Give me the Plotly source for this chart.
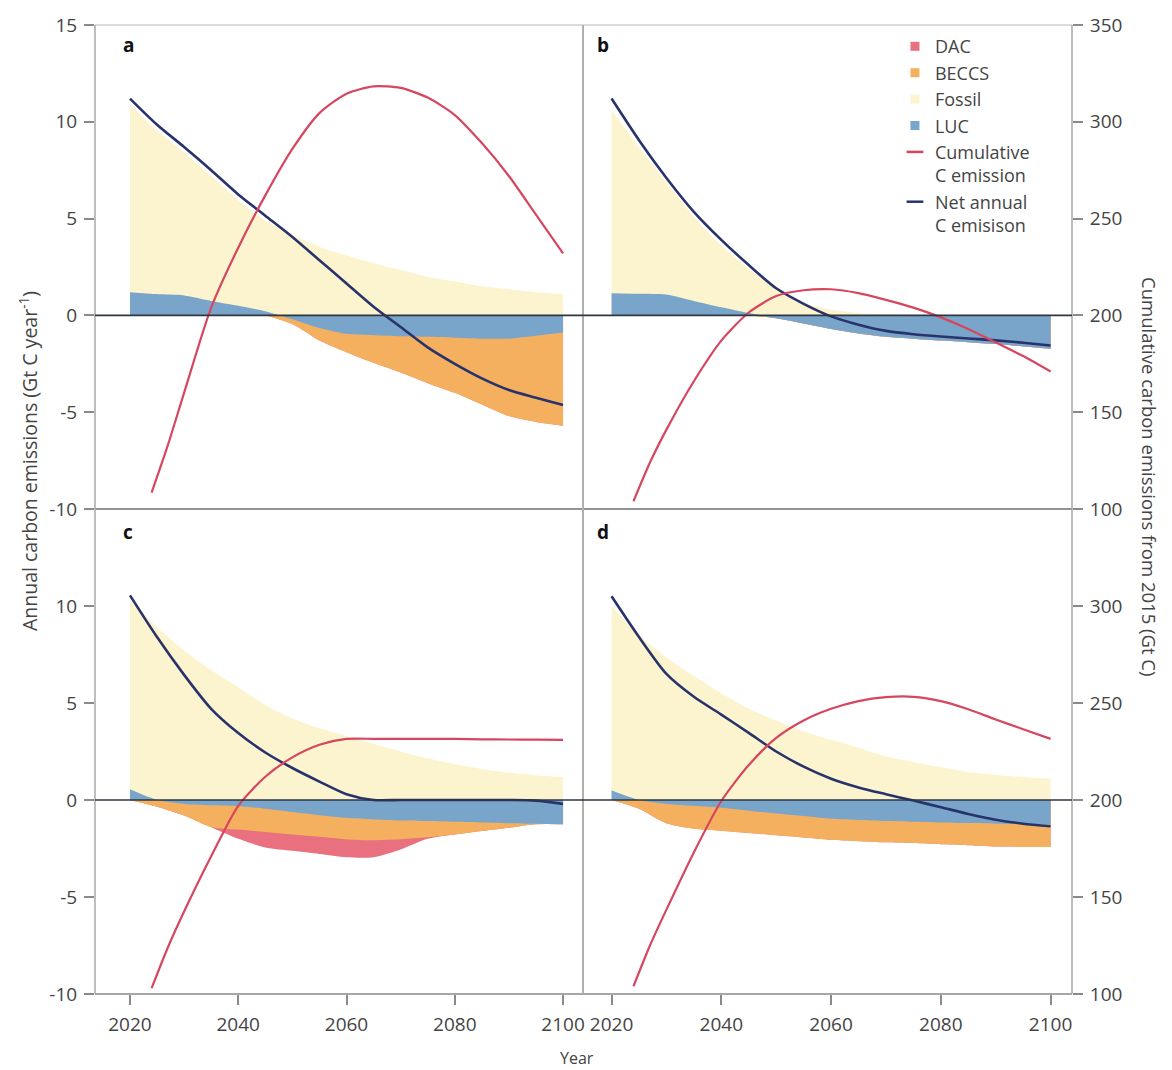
import plotly.graph_objects as go

# ---------------- data ----------------
years = [2020, 2025, 2030, 2035, 2040, 2045, 2050, 2055, 2060,
         2065, 2070, 2075, 2080, 2085, 2090, 2095, 2100]
cum_years = [2024, 2027, 2030, 2035, 2040, 2045, 2050, 2055, 2060,
             2065, 2070, 2075, 2080, 2085, 2090, 2095, 2100]

# panel a
fossil_a = [9.7, 8.45, 7.37, 6.45, 5.45, 4.68, 4.15, 3.55, 3.1, 2.7, 2.35, 2.0, 1.75, 1.5, 1.35, 1.2, 1.1]
luc_a = [1.2, 1.1, 1.03, 0.75, 0.5, 0.22, -0.2, -0.65, -0.95, -1.02, -1.07, -1.1, -1.15, -1.2, -1.2, -1.05, -0.88]
beccs_a = [0, 0, 0, 0, 0, 0, -0.25, -0.65, -0.95, -1.43, -1.88, -2.4, -2.85, -3.4, -4.0, -4.45, -4.82]
dac_a = [0] * 17
net_a = [11.2, 9.85, 8.7, 7.5, 6.25, 5.15, 4.05, 2.85, 1.65, 0.45, -0.6, -1.65, -2.5, -3.25, -3.85, -4.25, -4.63]
cum_a = [108.5, 133, 160, 204, 235, 262, 286, 304.5, 314.5, 318.3, 317.5, 312.5, 303.5, 289, 272, 252, 232]

# panel b
fossil_b = [9.45, 7.58, 5.82, 4.35, 3.18, 2.28, 1.4, 0.65, 0.3, 0.12, 0.05, 0.03, 0.03, 0.03, 0.03, 0.03, 0.03]
luc_b = [1.15, 1.12, 1.08, 0.75, 0.42, 0.12, -0.15, -0.42, -0.7, -0.93, -1.1, -1.2, -1.3, -1.38, -1.48, -1.6, -1.72]
beccs_b = [0] * 17
dac_b = [0] * 17
net_b = [11.2, 9.05, 7.1, 5.35, 3.9, 2.6, 1.4, 0.6, -0.05, -0.48, -0.8, -0.97, -1.09, -1.19, -1.29, -1.41, -1.55]
cum_b = [104, 124, 141, 166, 187, 201.5, 210, 213, 213.5, 211.5, 208, 204, 199, 193, 186, 179, 171]

# panel c
fossil_c = [9.75, 8.9, 7.7, 6.7, 5.8, 4.9, 4.2, 3.7, 3.3, 2.9, 2.5, 2.15, 1.85, 1.6, 1.4, 1.28, 1.18]
luc_c = [0.55, 0.0, -0.2, -0.27, -0.32, -0.45, -0.62, -0.78, -0.92, -1.0, -1.05, -1.08, -1.12, -1.16, -1.2, -1.23, -1.25]
beccs_c = [0, -0.35, -0.6, -1.13, -1.2, -1.2, -1.16, -1.12, -1.11, -1.07, -0.97, -0.84, -0.66, -0.44, -0.23, -0.02, 0]
dac_c = [0, 0, 0, 0, -0.48, -0.8, -0.84, -0.88, -0.92, -0.88, -0.53, -0.08, 0, 0, 0, 0, 0]
net_c = [10.55, 8.4, 6.45, 4.7, 3.45, 2.45, 1.65, 0.95, 0.3, 0.0, 0.0, 0.0, 0.0, 0.0, 0.0, -0.03, -0.2]
cum_c = [103, 124, 142.5, 171, 197, 212, 222, 228.5, 231.5, 231.5, 231.5, 231.5, 231.5, 231.3, 231.2, 231.1, 231]

# panel d
fossil_d = [9.5, 8.5, 7.35, 6.4, 5.5, 4.7, 4.1, 3.55, 3.1, 2.7, 2.25, 1.95, 1.7, 1.45, 1.3, 1.18, 1.09]
luc_d = [0.5, 0.0, -0.2, -0.3, -0.4, -0.55, -0.7, -0.83, -0.97, -1.03, -1.08, -1.12, -1.16, -1.19, -1.22, -1.24, -1.26]
beccs_d = [0, -0.45, -1.0, -1.18, -1.18, -1.15, -1.12, -1.1, -1.08, -1.09, -1.1, -1.1, -1.12, -1.14, -1.18, -1.18, -1.16]
dac_d = [0] * 17
net_d = [10.5, 8.4, 6.5, 5.32, 4.4, 3.46, 2.5, 1.72, 1.1, 0.65, 0.3, -0.03, -0.37, -0.72, -1.02, -1.22, -1.35]
cum_d = [104, 125, 143.5, 173, 199.5, 218, 232, 241, 247, 251, 253, 253.2, 251, 246.8, 241.5, 236.5, 231.5]

x_ticks = [2020, 2040, 2060, 2080, 2100]
y_ticks_top = [-10, -5, 0, 5, 10, 15]
y_ticks_bottom = [-10, -5, 0, 5, 10]
cum_ticks_top = [100, 150, 200, 250, 300, 350]
cum_ticks_bottom = [100, 150, 200, 250, 300]

# ---------------- style ----------------
C_DAC = "#e9707e"
C_BECCS = "#f5b05f"
C_FOSSIL = "#fcf4cf"
C_LUC = "#7aa5ca"
C_CUM = "#d6465f"
C_NET = "#28336c"
FONT = "Open Sans"
TXT = "#444444"

fig = go.Figure()

panels = [
    ("x", "y", "y5", fossil_a, luc_a, beccs_a, dac_a, net_a, cum_a),
    ("x2", "y2", "y6", fossil_b, luc_b, beccs_b, dac_b, net_b, cum_b),
    ("x3", "y3", "y7", fossil_c, luc_c, beccs_c, dac_c, net_c, cum_c),
    ("x4", "y4", "y8", fossil_d, luc_d, beccs_d, dac_d, net_d, cum_d),
]

SM = 0.7
for xa, ya, ca, fossil, luc, beccs, dac, net, cum in panels:
    pos_base = [max(v, 0) for v in luc]
    neg_base = [min(v, 0) for v in luc]
    fossil_top = [p + f for p, f in zip(pos_base, fossil)]
    beccs_bot = [n + b for n, b in zip(neg_base, beccs)]
    dac_bot = [b + d for b, d in zip(beccs_bot, dac)]
    for vals, col in [(dac_bot, C_DAC), (beccs_bot, C_BECCS),
                      (fossil_top, C_FOSSIL), (luc, C_LUC)]:
        fig.add_trace(go.Scatter(
            x=years, y=vals, xaxis=xa, yaxis=ya, mode="lines",
            line=dict(width=0, shape="spline", smoothing=SM),
            fill="tozeroy", fillcolor=col, showlegend=False, hoverinfo="skip"))
    fig.add_trace(go.Scatter(
        x=years, y=net, xaxis=xa, yaxis=ya, mode="lines",
        line=dict(color=C_NET, width=2.6, shape="spline", smoothing=SM),
        showlegend=False, hoverinfo="skip"))
    fig.add_trace(go.Scatter(
        x=cum_years, y=cum, xaxis=xa, yaxis=ca, mode="lines",
        line=dict(color=C_CUM, width=2.2, shape="spline", smoothing=SM),
        showlegend=False, hoverinfo="skip"))

# legend-only entries
for name, col in [("DAC", C_DAC), ("BECCS", C_BECCS), ("Fossil", C_FOSSIL), ("LUC", C_LUC)]:
    fig.add_trace(go.Scatter(x=[None], y=[None], xaxis="x2", yaxis="y2", mode="markers",
                             marker=dict(symbol="square", size=9, color=col),
                             name=name, showlegend=True))
for name, col in [("Cumulative<br>C emission", C_CUM), ("Net annual<br>C emisison", C_NET)]:
    fig.add_trace(go.Scatter(x=[None], y=[None], xaxis="x2", yaxis="y2", mode="markers",
                             marker=dict(symbol="line-ew-open", size=12, color=col,
                                         line=dict(width=2.5, color=col)),
                             name=name, showlegend=True))

XL = [0, 0.4995]
XR = [0.4995, 1]
YT = [0.5005, 1]
YB = [0, 0.5005]
RANGE_L = [2013.54, 2103.69]
RANGE_R = [2014.8, 2103.9]

tickfont = dict(family=FONT, size=19, color=TXT)
common = dict(showgrid=False, zeroline=False, showline=False, fixedrange=True)
tk = dict(ticks="outside", ticklen=10, tickcolor="#8a8a8a", tickwidth=1.5,
          tickfont=tickfont, ticklabelstandoff=3)


def fmt(v):
    return str(v).replace("\u2212", "-")


layout_axes = dict(
    xaxis=dict(domain=XL, range=RANGE_L, anchor="y", showticklabels=False, ticks="", **common),
    xaxis2=dict(domain=XR, range=RANGE_R, anchor="y2", showticklabels=False, ticks="", **common),
    xaxis3=dict(domain=XL, range=RANGE_L, anchor="y3", tickvals=x_ticks,
                ticktext=[str(v) for v in x_ticks], **tk, **common),
    xaxis4=dict(domain=XR, range=RANGE_R, anchor="y4", tickvals=x_ticks,
                ticktext=[str(v) for v in x_ticks], **tk, **common),
    yaxis=dict(domain=YT, range=[-10, 15], anchor="x", tickvals=y_ticks_top,
               ticktext=[fmt(v) for v in y_ticks_top], **tk, **common),
    yaxis2=dict(domain=YT, range=[-10, 15], anchor="x2", showticklabels=False, ticks="", **common),
    yaxis3=dict(domain=YB, range=[-10, 15], anchor="x3", tickvals=y_ticks_bottom,
                ticktext=[fmt(v) for v in y_ticks_bottom], **tk, **common),
    yaxis4=dict(domain=YB, range=[-10, 15], anchor="x4", showticklabels=False, ticks="", **common),
    yaxis5=dict(overlaying="y", anchor="x", range=[100, 350], visible=False, **common),
    yaxis6=dict(overlaying="y2", anchor="x2", side="right", range=[100, 350],
                tickvals=cum_ticks_top, ticktext=[str(v) for v in cum_ticks_top],
                **tk, **common),
    yaxis7=dict(overlaying="y3", anchor="x3", range=[100, 350], visible=False, **common),
    yaxis8=dict(overlaying="y4", anchor="x4", side="right", range=[100, 350],
                tickvals=cum_ticks_bottom, ticktext=[str(v) for v in cum_ticks_bottom],
                **tk, **common),
)

shapes = [
    # frame
    dict(type="line", xref="paper", yref="paper", x0=0, x1=1, y0=1, y1=1,
         line=dict(color="#cfcfcf", width=1.5), layer="above"),
    dict(type="line", xref="paper", yref="paper", x0=0, x1=1, y0=0.5005, y1=0.5005,
         line=dict(color="#707070", width=1.5), layer="above"),
    dict(type="line", xref="paper", yref="paper", x0=0, x1=1, y0=0, y1=0,
         line=dict(color="#8a8a8a", width=1.5), layer="above"),
    dict(type="line", xref="paper", yref="paper", x0=0, x1=0, y0=0, y1=1,
         line=dict(color="#a8a8a8", width=1.5), layer="above"),
    dict(type="line", xref="paper", yref="paper", x0=1, x1=1, y0=0, y1=1,
         line=dict(color="#a8a8a8", width=1.5), layer="above"),
    dict(type="line", xref="paper", yref="paper", x0=0.4995, x1=0.4995, y0=0, y1=1,
         line=dict(color="#b0b0b0", width=2), layer="above"),
    # zero lines
    dict(type="line", xref="paper", yref="y", x0=0, x1=1, y0=0, y1=0,
         line=dict(color="#2e3642", width=1.6), layer="above"),
    dict(type="line", xref="paper", yref="y3", x0=0, x1=1, y0=0, y1=0,
         line=dict(color="#2e3642", width=1.6), layer="above"),
]

lab_font = dict(family=FONT, size=19, color="#111")
annotations = [
    dict(text="<b>a</b>", xref="paper", yref="paper", x=0.0338, y=0.979, showarrow=False,
         xanchor="center", yanchor="middle", font=lab_font),
    dict(text="<b>b</b>", xref="paper", yref="paper", x=0.5200, y=0.979, showarrow=False,
         xanchor="center", yanchor="middle", font=lab_font),
    dict(text="<b>c</b>", xref="paper", yref="paper", x=0.0338, y=0.4768, showarrow=False,
         xanchor="center", yanchor="middle", font=lab_font),
    dict(text="<b>d</b>", xref="paper", yref="paper", x=0.5200, y=0.4768, showarrow=False,
         xanchor="center", yanchor="middle", font=lab_font),
    dict(text="Annual carbon emissions (Gt C year<sup>-1</sup>)", xref="paper", yref="paper",
         x=-0.0686, y=0.55, textangle=-90, showarrow=False, xanchor="center",
         yanchor="middle", font=dict(family=FONT, size=19.5, color=TXT)),
    dict(text="Cumulative carbon emissions from 2015 (Gt C)", xref="paper", yref="paper",
         x=1.0798, y=0.5335, textangle=90, showarrow=False, xanchor="center",
         yanchor="middle", font=dict(family=FONT, size=18.5, color=TXT)),
    dict(text="Year", xref="paper", yref="paper", x=0.4933, y=-0.066, showarrow=False,
         xanchor="center", yanchor="middle", font=dict(family=FONT, size=16, color=TXT)),
]

fig.update_layout(
    width=1172, height=1070,
    margin=dict(l=95, r=100, t=25, b=76),
    paper_bgcolor="white", plot_bgcolor="white",
    font=dict(family=FONT, color=TXT),
    showlegend=True,
    legend=dict(x=0.8188, y=0.9968, xanchor="left", yanchor="top",
                bgcolor="rgba(0,0,0,0)", borderwidth=0, valign="top",
                font=dict(family=FONT, size=18, color=TXT), itemclick=False,
                itemdoubleclick=False),
    shapes=shapes, annotations=annotations,
    **layout_axes,
)

fig.write_html("out.html", config={"displayModeBar": False},
               post_script="document.body.style.margin='0px';")
